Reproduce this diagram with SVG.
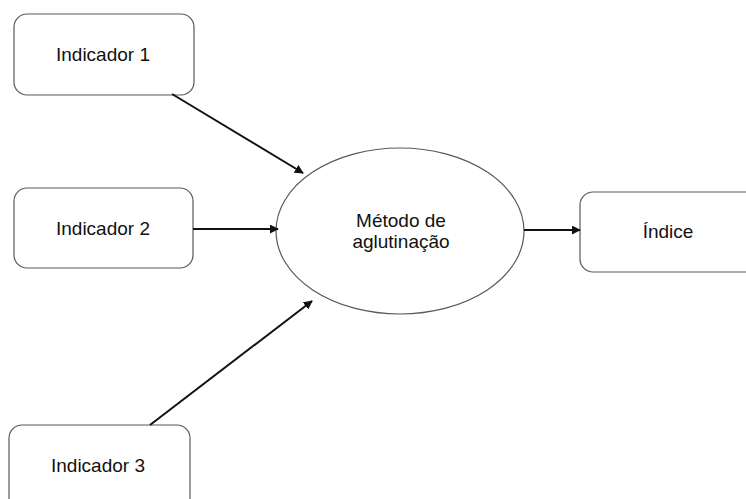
<svg xmlns="http://www.w3.org/2000/svg" width="746" height="499" viewBox="0 0 746 499">
<style>
.box{fill:#fff;stroke:#595959;stroke-width:1.2}
.lbl{font-family:"Liberation Sans",Arial,sans-serif;font-size:19px;fill:#111;text-anchor:middle}
.conn{stroke:#111;stroke-width:2;fill:none;marker-end:url(#ah)}
</style>
<defs>
<marker id="ah" viewBox="0 0 10 10" refX="9" refY="5" markerWidth="4.5" markerHeight="4.5" orient="auto" markerUnits="strokeWidth">
<path d="M0,0 L10,5 L0,10 z" fill="#111"/>
</marker>
</defs>
<rect width="746" height="499" fill="#fff"/>
<g id="ind1"><rect class="box" x="14" y="14" width="180" height="81" rx="13"/><text class="lbl" x="103" y="61">Indicador 1</text></g>
<g id="ind2"><rect class="box" x="14" y="188" width="179" height="80" rx="13"/><text class="lbl" x="103" y="235">Indicador 2</text></g>
<g id="ind3"><rect class="box" x="9" y="425" width="181" height="90" rx="13"/><text class="lbl" x="98" y="472">Indicador 3</text></g>
<g id="metodo"><ellipse class="box" cx="400" cy="231" rx="124" ry="83"/><text class="lbl" x="401" y="227">Método de</text><text class="lbl" x="401" y="248">aglutinação</text></g>
<g id="indice"><rect class="box" x="580" y="192" width="180" height="80" rx="13"/><text class="lbl" x="668" y="238">Índice</text></g>
<g id="connectors">
<line class="conn" x1="172" y1="94" x2="303" y2="173"/>
<line class="conn" x1="193" y1="229" x2="278" y2="229"/>
<line class="conn" x1="150" y1="425" x2="312" y2="301"/>
<line class="conn" x1="524" y1="230" x2="580" y2="230"/>
</g>
</svg>
